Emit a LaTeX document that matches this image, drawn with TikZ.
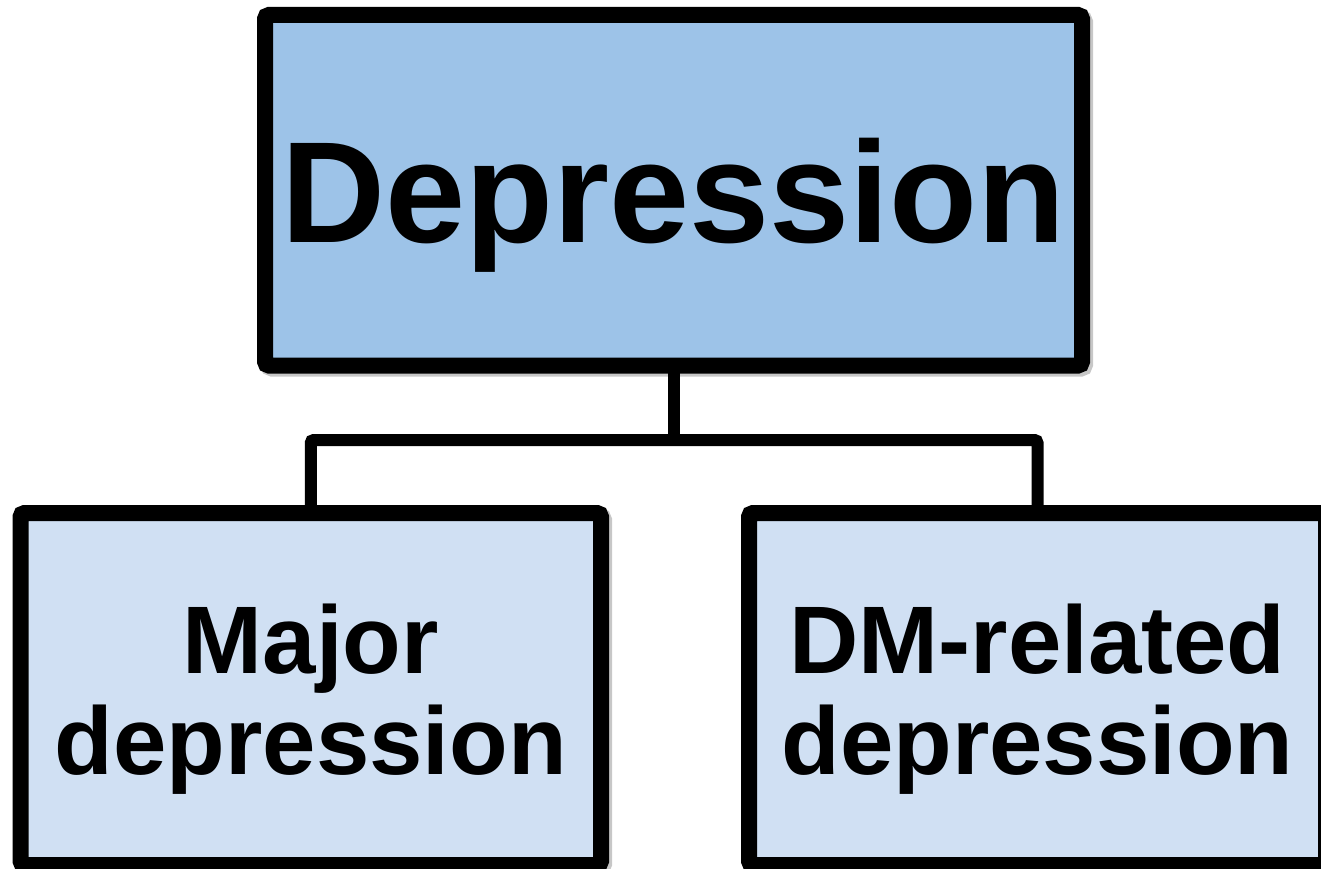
\documentclass[tikz,border=0pt]{standalone}
\usepackage{fontspec}
\setmainfont{Liberation Sans}
\usetikzlibrary{shadows}
\definecolor{topblue}{RGB}{157,195,232}
\definecolor{lowblue}{RGB}{208,224,243}
\tikzset{
  boxbase/.style={draw=black, line width=16pt, rounded corners=4pt, inner sep=0pt, outer sep=0pt,
    align=center, text depth=0pt,
    drop shadow={shadow xshift=3pt, shadow yshift=-3pt, opacity=0.22, fill=black, draw=black, line width=16pt}},
  topbox/.style={boxbase, fill=topblue, font=\bfseries\fontsize{144}{150}\selectfont},
  lowbox/.style={boxbase, fill=lowblue, font=\bfseries\fontsize{96}{101}\selectfont},
  link/.style={draw=black, line width=12pt, rounded corners=3pt}
}
\begin{document}
\begin{tikzpicture}[x=1pt,y=-1pt]
\useasboundingbox (0,0) rectangle (1321,869);
\node[topbox, minimum width=817pt, minimum height=350.5pt] (top) at (673.5,190.25) {Depression};
\node[lowbox, minimum width=580.5pt, minimum height=352pt] (left) at (310.75,689) {Major\\depression};
\node[lowbox, minimum width=577pt, minimum height=352pt] (right) at (1037.5,689) {DM-related\\depression};
\coordinate (j) at (673.5,440);
\draw[link] (top.south) -- (j);
\draw[link] (left.north) |- (j) -| (right.north);
\end{tikzpicture}
\end{document}
